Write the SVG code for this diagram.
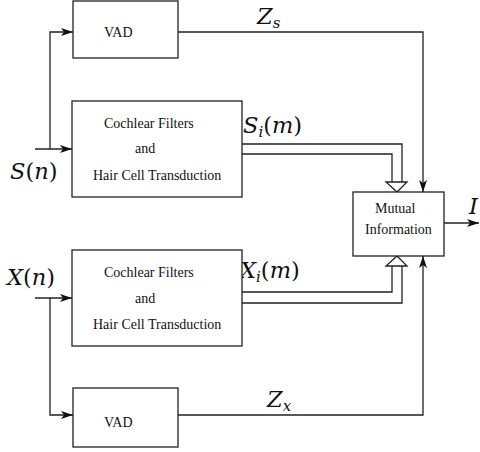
<svg xmlns="http://www.w3.org/2000/svg" width="480" height="452" viewBox="0 0 480 452">
<style>
.box{fill:#fff;stroke:#222;stroke-width:1.3}
.ln{fill:none;stroke:#222;stroke-width:1.3}
.t{font-family:'Liberation Serif','Times New Roman',serif;font-size:14px;fill:#111}
.m{font-family:'DejaVu Serif','Liberation Serif',serif;font-size:22.5px;fill:#111}
.it{font-style:italic}
.sub{font-size:15px;font-style:italic}
.hollow{fill:#fff;stroke:#222;stroke-width:1.3}
</style>
<defs>
<marker id="arr" viewBox="0 0 12 8" refX="12" refY="4" markerWidth="12" markerHeight="8" markerUnits="userSpaceOnUse" orient="auto">
<path d="M0,0 L12,4 L0,8 L3,4 Z" fill="#111"/>
</marker>
</defs>
<g id="connectors">
<path class="ln" d="M35,149 H72" marker-end="url(#arr)"/>
<path class="ln" d="M50,149 V32 H73" marker-end="url(#arr)"/>
<path class="ln" d="M35,298 H72" marker-end="url(#arr)"/>
<path class="ln" d="M50,298 V415 H73" marker-end="url(#arr)"/>
<path class="ln" d="M178,32 H423 V192" marker-end="url(#arr)"/>
<path class="ln" d="M178,415 H423 V256" marker-end="url(#arr)"/>
<path class="ln" d="M444,223 H479" marker-end="url(#arr)"/>
<path class="ln" d="M242,144 H402 V182"/>
<path class="ln" d="M242,154 H392 V182"/>
<polygon class="hollow" points="386,182 407,182 397,192"/>
<path class="ln" d="M242,292 H392 V266"/>
<path class="ln" d="M242,303 H402 V266"/>
<polygon class="hollow" points="386,266 407,266 397,256"/>
<text class="m" x="243" y="133"><tspan class="it">S</tspan><tspan class="sub" dy="4">i</tspan><tspan dy="-4">(</tspan><tspan class="it">m</tspan>)</text>
<text class="m" x="240" y="278"><tspan class="it">X</tspan><tspan class="sub" dy="4">i</tspan><tspan dy="-4">(</tspan><tspan class="it">m</tspan>)</text>
<text class="m" x="257" y="24"><tspan class="it">Z</tspan><tspan class="sub" dy="4">s</tspan></text>
<text class="m" x="267" y="407"><tspan class="it">Z</tspan><tspan class="sub" dy="4">x</tspan></text>
<text class="m it" x="469" y="214">I</text>
<text class="m" x="10" y="179"><tspan class="it">S</tspan>(<tspan class="it">n</tspan>)</text>
<text class="m" x="7" y="285"><tspan class="it">X</tspan>(<tspan class="it">n</tspan>)</text>
</g>
<g id="vad-top">
<rect class="box" x="73" y="1" width="105" height="57"/>
<text class="t" x="104" y="37">VAD</text>
</g>
<g id="cochlear-top">
<rect class="box" x="72" y="101" width="170" height="96"/>
<text class="t" x="104" y="128">Cochlear Filters</text>
<text class="t" x="135" y="153">and</text>
<text class="t" x="93" y="180">Hair Cell Transduction</text>
</g>
<g id="mutual-info">
<rect class="box" x="353" y="192" width="91" height="64"/>
<text class="t" x="375" y="213">Mutual</text>
<text class="t" x="365" y="234">Information</text>
</g>
<g id="cochlear-bottom">
<rect class="box" x="72" y="250" width="170" height="96"/>
<text class="t" x="104" y="277">Cochlear Filters</text>
<text class="t" x="135" y="303">and</text>
<text class="t" x="93" y="329">Hair Cell Transduction</text>
</g>
<g id="vad-bottom">
<rect class="box" x="73" y="388" width="105" height="59"/>
<text class="t" x="104" y="427">VAD</text>
</g>
</svg>
